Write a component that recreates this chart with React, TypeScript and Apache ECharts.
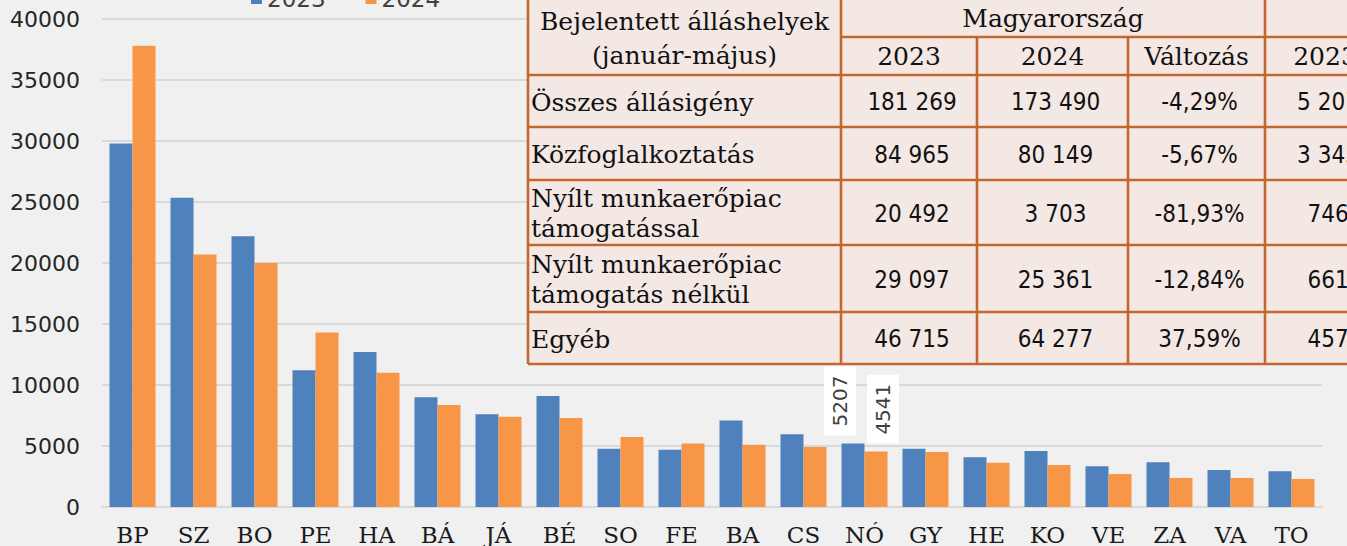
import React, { useEffect, useRef } from 'react';
import * as echarts from 'echarts';

const categories = ['BP', 'SZ', 'BO', 'PE', 'HA', 'BÁ', 'JÁ', 'BÉ', 'SO', 'FE', 'BA', 'CS', 'NÓ', 'GY', 'HE', 'KO', 'VE', 'ZA', 'VA', 'TO'];
const values2023 = [29800, 25350, 22200, 11200, 12700, 9000, 7600, 9100, 4780, 4700, 7100, 5960, 5207, 4780, 4070, 4590, 3340, 3660, 3030, 2930];
const values2024 = [37800, 20700, 20000, 14300, 11000, 8360, 7400, 7300, 5740, 5200, 5100, 4920, 4541, 4500, 3630, 3440, 2700, 2380, 2380, 2300];
const seriesNames = ['2023', '2024'];
const labelledCategory = 'NÓ';

const tableHeaderLeft = ['Bejelentett álláshelyek', '(január-május)'];
const tableGroupHeader = 'Magyarország';
const tableColumnHeaders = ['2023', '2024', 'Változás', '2023'];
const tableRowLabels = [
  'Összes állásigény',
  'Közfoglalkoztatás',
  'Nyílt munkaerőpiac\ntámogatással',
  'Nyílt munkaerőpiac\ntámogatás nélkül',
  'Egyéb',
];
const huValues2023 = ['181 269', '84 965', '20 492', '29 097', '46 715'];
const huValues2024 = ['173 490', '80 149', '3 703', '25 361', '64 277'];
const huChange = ['-4,29%', '-5,67%', '-81,93%', '-12,84%', '37,59%'];
const noValues2023 = ['5 207', '3 343', '746', '661', '457'];

const BLUE = '#4F81BD';
const ORANGE = '#F79646';
const GRID = '#D9D9D9';
const BORDER = '#C4672F';
const TABLE_BG = '#F4E8E5';

const colX = [528, 841, 977, 1128, 1265, 1385];
const rowY = [-2, 37, 75, 127, 180, 245, 312, 364];

function buildTable() {
  const els: any[] = [];
  const right = 1420;
  els.push({
    type: 'rect', z: 100,
    shape: { x: colX[0], y: rowY[0], width: right - colX[0], height: rowY[7] - rowY[0] },
    style: { fill: TABLE_BG },
  });
  const line = (x1: number, y1: number, x2: number, y2: number) =>
    els.push({ type: 'line', z: 101, shape: { x1, y1, x2, y2 }, style: { stroke: BORDER, lineWidth: 2.6 } });
  line(colX[0], rowY[0], colX[0], rowY[7]);
  line(colX[1], rowY[0], colX[1], rowY[7]);
  line(colX[2], rowY[1], colX[2], rowY[7]);
  line(colX[3], rowY[1], colX[3], rowY[7]);
  line(colX[4], rowY[0], colX[4], rowY[7]);
  line(colX[5], rowY[1], colX[5], rowY[7]);
  line(colX[1], rowY[1], right, rowY[1]);
  for (let r = 2; r <= 7; r++) line(colX[0], rowY[r], right, rowY[r]);

  const serif = '"DejaVu Serif", serif';
  const sans = '"DejaVu Sans Condensed", "DejaVu Sans", sans-serif';
  const txt = (text: string, x: number, y: number, align: string, family: string, size: number, lh?: number) =>
    els.push({
      type: 'text', z: 102, x, y,
      style: { text, align, verticalAlign: 'middle', fontFamily: family, fontSize: size, lineHeight: lh || size + 4, fill: '#111' },
    });
  const cx = (c: number) => (colX[c] + colX[c + 1]) / 2;
  const cy = (r: number) => (rowY[r] + rowY[r + 1]) / 2;

  txt(tableHeaderLeft[0], cx(0), 21, 'center', serif, 25);
  txt(tableHeaderLeft[1], cx(0), 55, 'center', serif, 25);
  txt(tableGroupHeader, (colX[1] + colX[4]) / 2, 18, 'center', serif, 25);
  tableColumnHeaders.forEach((h, i) => txt(h, cx(i + 1), 56, 'center', serif, 25));
  tableRowLabels.forEach((l, i) => txt(l, 531, cy(i + 2) + 1, 'left', serif, 25, 30));
  const cols = [huValues2023, huValues2024, huChange, noValues2023];
  cols.forEach((col, c) => col.forEach((v, r) => txt(v, cx(c + 1) + 3, cy(r + 2) + 1, 'center', sans, 24)));
  return els;
}

function makeData(vals: number[], offsetX: number) {
  const idx = categories.indexOf(labelledCategory);
  return vals.map((v, i) =>
    i === idx
      ? {
          value: v,
          label: {
            show: true, position: 'top', distance: 8, rotate: 90, align: 'left', verticalAlign: 'middle',
            offset: [0, offsetX], backgroundColor: '#FFFFFF', padding: [6, 9],
            fontFamily: '"DejaVu Sans", sans-serif', fontSize: 20, lineHeight: 20, color: '#404040',
          },
        }
      : v,
  );
}

export default function App() {
  const ref = useRef<HTMLDivElement>(null);
  useEffect(() => {
    if (!ref.current) return;
    const chart = echarts.init(ref.current, undefined, { renderer: 'svg' });
    chart.setOption({
      animation: false,
      backgroundColor: '#F0F0F0',
      legend: {
        data: seriesNames, left: 251, top: -13, padding: 0, itemGap: 40,
        icon: 'rect', itemWidth: 11, itemHeight: 11,
        textStyle: { fontFamily: '"DejaVu Sans", sans-serif', fontSize: 23, lineHeight: 23, color: '#404040' },
      },
      grid: { left: 102, right: 25, top: 19, bottom: 39 },
      xAxis: {
        type: 'category', data: categories,
        axisLine: { lineStyle: { color: GRID, width: 2 } },
        axisTick: { show: false },
        axisLabel: { interval: 0, margin: 16, lineHeight: 23, fontFamily: '"DejaVu Serif", serif', fontSize: 23, color: '#1a1a1a' },
      },
      yAxis: {
        type: 'value', min: 0, max: 40000, interval: 5000,
        axisLine: { show: false }, axisTick: { show: false },
        splitLine: { lineStyle: { color: GRID, width: 2 } },
        axisLabel: { margin: 22, fontFamily: '"DejaVu Sans", sans-serif', fontSize: 22, color: '#262626', formatter: (v: number) => String(v) },
      },
      series: [
        { name: seriesNames[0], type: 'bar', barWidth: 23, barGap: '0%', itemStyle: { color: BLUE }, data: makeData(values2023, -13) },
        { name: seriesNames[1], type: 'bar', barWidth: 23, barGap: '0%', itemStyle: { color: ORANGE }, data: makeData(values2024, 7) },
      ],
      graphic: buildTable(),
    });
    return () => chart.dispose();
  }, []);
  return <div ref={ref} style={{ position: 'absolute', left: 0, top: 0, width: 1347, height: 546 }} />;
}
